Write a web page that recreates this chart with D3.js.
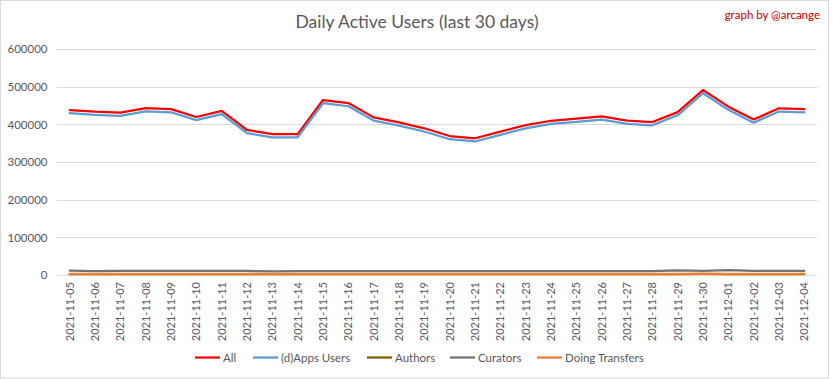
<!DOCTYPE html>
<html><head><meta charset="utf-8">
<script src="https://cdn.jsdelivr.net/npm/d3@7"></script>
<style>body{margin:0;background:#fff}svg{display:block}</style>
</head><body><div id="c"></div>
<script>
const dates = ["2021-11-05","2021-11-06","2021-11-07","2021-11-08","2021-11-09","2021-11-10","2021-11-11","2021-11-12","2021-11-13","2021-11-14","2021-11-15","2021-11-16","2021-11-17","2021-11-18","2021-11-19","2021-11-20","2021-11-21","2021-11-22","2021-11-23","2021-11-24","2021-11-25","2021-11-26","2021-11-27","2021-11-28","2021-11-29","2021-11-30","2021-12-01","2021-12-02","2021-12-03","2021-12-04"];
const allUsers = [438000,433500,431000,443000,440500,419500,435500,385000,374000,374000,464500,456500,418500,405000,389500,369000,363000,380500,398000,409500,415000,421000,410000,406000,432500,491000,447000,413000,442500,440500];
const appsUsers = [429500,425000,422500,434500,432000,411000,427000,376500,365500,365500,456000,448000,410000,396500,381000,360500,354500,372000,389500,401000,406500,412500,401500,397500,424000,482500,438500,404500,434000,432000];
const authors = [2600,2500,2500,2600,2600,2500,2600,2500,2400,2400,2600,2600,2500,2500,2500,2400,2400,2500,2500,2500,2600,2600,2500,2500,2600,2700,2600,2500,2600,2600];
const curators = [11500,10000,11200,10800,10800,10800,10800,10800,9500,10500,10600,10600,10600,10600,10600,10600,10600,10600,10600,10600,10600,10600,10600,10600,12500,11200,12800,11000,10800,10800];
const transfers = [2800,2800,2800,2800,2800,2800,2800,2800,2800,2800,2800,3200,2800,2800,2800,2800,2800,2800,2800,2800,3300,3200,2800,2800,2800,2800,2800,2800,2800,2800];
const yTicks = [0,100000,200000,300000,400000,500000,600000];
const seriesNames = ["All","(d)Apps Users","Authors","Curators","Doing Transfers"];
const seriesColors = ["#ff0000","#5b9bd5","#7f6000","#767171","#ed7d31"];
const seriesData = [allUsers, appsUsers, authors, curators, transfers];

const W = 833, H = 379;
const font = "Lato, 'Open Sans', sans-serif";
const svg = d3.select("#c").append("svg").attr("width", W).attr("height", H);
svg.append("rect").attr("x",0.5).attr("y",0.5).attr("width",828).attr("height",377.5)
  .attr("fill","#fff").attr("stroke","#d9d9d9");

const x = d3.scaleBand().domain(dates).range([57, 817]);
const y = d3.scaleLinear().domain([0, 600000]).range([275, 49]);

svg.append("g").selectAll("line").data(yTicks).join("line")
  .attr("x1", 57).attr("x2", 817)
  .attr("y1", d => Math.round(y(d)) + 0.5).attr("y2", d => Math.round(y(d)) + 0.5)
  .attr("stroke", "#d9d9d9").attr("stroke-width", 1);

const yAxis = d3.axisLeft(y).tickValues(yTicks).tickSize(0).tickPadding(0).tickFormat(d3.format("d"));
const gy = svg.append("g").attr("transform", "translate(47.5,0)").call(yAxis);
gy.select(".domain").remove();
gy.selectAll("text").attr("fill", "#595959").style("font-family", font).style("font-size", "11.5px");

const xAxis = d3.axisBottom(x).tickSize(0).tickPadding(0);
const gx = svg.append("g").attr("transform", "translate(0,282)").call(xAxis);
gx.select(".domain").remove();
gx.selectAll("text").attr("fill", "#595959").style("font-family", font).style("font-size", "11px")
  .attr("text-anchor", "end").attr("x", 0).attr("y", 0).attr("dy", "0.35em")
  .attr("transform", "rotate(-90)");

const line = d3.line().x((d, i) => x(dates[i]) + x.bandwidth() / 2).y(d => y(d));
seriesData.forEach((s, k) => {
  svg.append("path").datum(s).attr("d", line).attr("fill", "none")
    .attr("stroke", seriesColors[k]).attr("stroke-width", 2.25).attr("stroke-linejoin", "round").attr("stroke-linecap", "round");
});

svg.append("text").attr("x", 417).attr("y", 28).attr("text-anchor", "middle")
  .attr("fill", "#595959").style("font-family", font).style("font-size", "17.5px").text("Daily Active Users (last 30 days)");
svg.append("text").attr("x", 820).attr("y", 19).attr("text-anchor", "end")
  .attr("fill", "#c00000").style("font-family", font).style("font-size", "11.5px").text("graph by @arcange");

const legX = [195, 253, 367, 450, 537];
const lg = svg.append("g");
seriesNames.forEach((n, k) => {
  lg.append("line").attr("x1", legX[k]).attr("x2", legX[k] + 25).attr("y1", 357.5).attr("y2", 357.5)
    .attr("stroke", seriesColors[k]).attr("stroke-width", 2.25);
  lg.append("text").attr("x", legX[k] + 28).attr("y", 361.5).attr("fill", "#595959")
    .style("font-family", font).style("font-size", "11.5px").text(n);
});
</script></body></html>
